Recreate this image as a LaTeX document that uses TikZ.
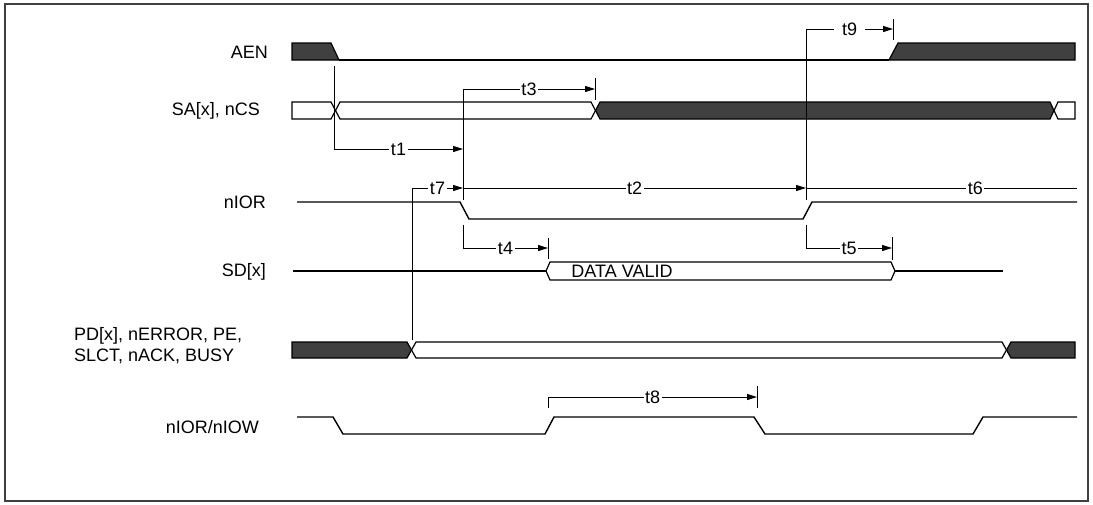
\documentclass[tikz,border=0pt]{standalone}
\usepackage{fontspec}
\setmainfont{Liberation Sans}
\usetikzlibrary{arrows.meta}
\definecolor{busdark}{RGB}{64,64,64}
\begin{document}
\begin{tikzpicture}[x=1pt,y=-1pt,
  sig/.style={line width=1.4pt, line join=miter},
  bus/.style={line width=1.2pt, line join=miter},
  darkbus/.style={bus, fill=busdark},
  tline/.style={line width=1pt},
  tarrow/.style={tline,-{Triangle[length=10pt,width=6pt]}},
  tlab/.style={fill=white, inner sep=1.5pt, font=\fontsize{18}{20}\selectfont},
  siglab/.style={anchor=east, font=\fontsize{18}{20}\selectfont, inner sep=0pt},
]
\useasboundingbox (0,0) rectangle (1093,504);
\draw[line width=1.5pt, draw=busdark] (5,4) rectangle (1088,501);

% signal labels
\node[siglab] (lAEN) at (268,52) {AEN};
\node[siglab] (lSA) at (260,111) {SA[x], nCS};
\node[siglab] (lIOR) at (266,202) {nIOR};
\node[siglab] (lSD) at (266,272) {SD[x]};
\node[anchor=west, align=left, inner sep=0pt, font=\fontsize{18}{21}\selectfont] (lPD) at (74,346) {PD[x], nERROR, PE,\\SLCT, nACK, BUSY};
\node[siglab] (lIOW) at (259,427) {nIOR/nIOW};

% AEN
\draw[darkbus] (292,43) -- (331,43) -- (339,60) -- (292,60) -- cycle;
\draw[sig] (339,60) -- (889,60);
\draw[darkbus] (889,60) -- (898,43) -- (1075,43) -- (1075,60) -- cycle;

% SA[x], nCS
\draw[bus] (292,102) -- (331,102) -- (335.5,110.5) -- (331,119) -- (292,119) -- cycle;
\draw[bus] (335.5,110.5) -- (340,102) -- (591,102) -- (595.5,110.5) -- (591,119) -- (340,119) -- cycle;
\draw[darkbus] (595.5,110.5) -- (600,102) -- (1050,102) -- (1054,110.5) -- (1050,119) -- (600,119) -- cycle;
\draw[bus] (1054,110.5) -- (1058,102) -- (1075,102) -- (1075,119) -- (1058,119) -- cycle;

% nIOR
\draw[sig] (297,202) -- (460,202) -- (469,219) -- (803,219) -- (812,202) -- (1077,202);

% SD[x]
\draw[sig] (293,271) -- (546,271);
\draw[bus] (546,271) -- (550,262) -- (891,262) -- (895,271) -- (891,280) -- (550,280) -- cycle;
\draw[sig] (895,271) -- (1003,271);
\node[font=\fontsize{18}{20}\selectfont, inner sep=0pt] (dv) at (622,271) {DATA VALID};

% PD row
\draw[darkbus] (292,342) -- (407,342) -- (411.5,350) -- (407,358) -- (292,358) -- cycle;
\draw[bus] (411.5,350) -- (416,342) -- (1002,342) -- (1006.5,350) -- (1002,358) -- (416,358) -- cycle;
\draw[darkbus] (1006.5,350) -- (1011,342) -- (1075,342) -- (1075,358) -- (1011,358) -- cycle;

% nIOR/nIOW
\draw[sig] (297,417) -- (333,417) -- (343,434) -- (545,434) -- (554,417) -- (754,417) -- (765,434) -- (973,434) -- (983,417) -- (1077,417);

% timing coordinates
\coordinate (t1s) at (334,66);  \coordinate (t1c) at (334,149); \coordinate (t1e) at (463,149);
\coordinate (t3s) at (463,200); \coordinate (t3c) at (463,89);  \coordinate (t3e) at (595,89);
\coordinate (t3ka) at (595,78); \coordinate (t3kb) at (595,100);
\coordinate (t7s) at (412,340); \coordinate (t7c) at (412,188); \coordinate (t7e) at (463,188);
\coordinate (t2e) at (806,188); \coordinate (t6e) at (1077,188);
\coordinate (t9s) at (806,200); \coordinate (t9c) at (806,29);  \coordinate (t9e) at (893,29);
\coordinate (t9ka) at (893,19); \coordinate (t9kb) at (893,40);
\coordinate (t4s) at (463,225); \coordinate (t4c) at (463,248); \coordinate (t4e) at (548,248);
\coordinate (t4ka) at (548,238); \coordinate (t4kb) at (548,259);
\coordinate (t5s) at (806,225); \coordinate (t5c) at (806,248); \coordinate (t5e) at (892,248);
\coordinate (t5ka) at (892,237); \coordinate (t5kb) at (892,260);
\coordinate (t8s) at (548,408); \coordinate (t8c) at (548,397); \coordinate (t8e) at (757,397);
\coordinate (t8ka) at (757,386); \coordinate (t8kb) at (757,408);

% timing arrows
\draw[tarrow] (t1s) -- (t1c) -- node[tlab] {t1} (t1e);
\draw[tarrow] (t3s) -- (t3c) -- node[tlab] {t3} (t3e);
\draw[tline] (t3ka) -- (t3kb);
\draw[tarrow] (t7s) -- (t7c) -- node[tlab] {t7} (t7e);
\draw[tarrow] (t7e) -- node[tlab] {t2} (t2e);
\draw[tline] (t2e) -- node[tlab, pos=0.625] {t6} (t6e);
\draw[tarrow] (t9s) -- (t9c) -- node[tlab, inner xsep=8pt] {t9} (t9e);
\draw[tline] (t9ka) -- (t9kb);
\draw[tarrow] (t4s) -- (t4c) -- node[tlab] {t4} (t4e);
\draw[tline] (t4ka) -- (t4kb);
\draw[tarrow] (t5s) -- (t5c) -- node[tlab] {t5} (t5e);
\draw[tline] (t5ka) -- (t5kb);
\draw[tarrow] (t8s) -- (t8c) -- node[tlab] {t8} (t8e);
\draw[tline] (t8ka) -- (t8kb);
\end{tikzpicture}
\end{document}
